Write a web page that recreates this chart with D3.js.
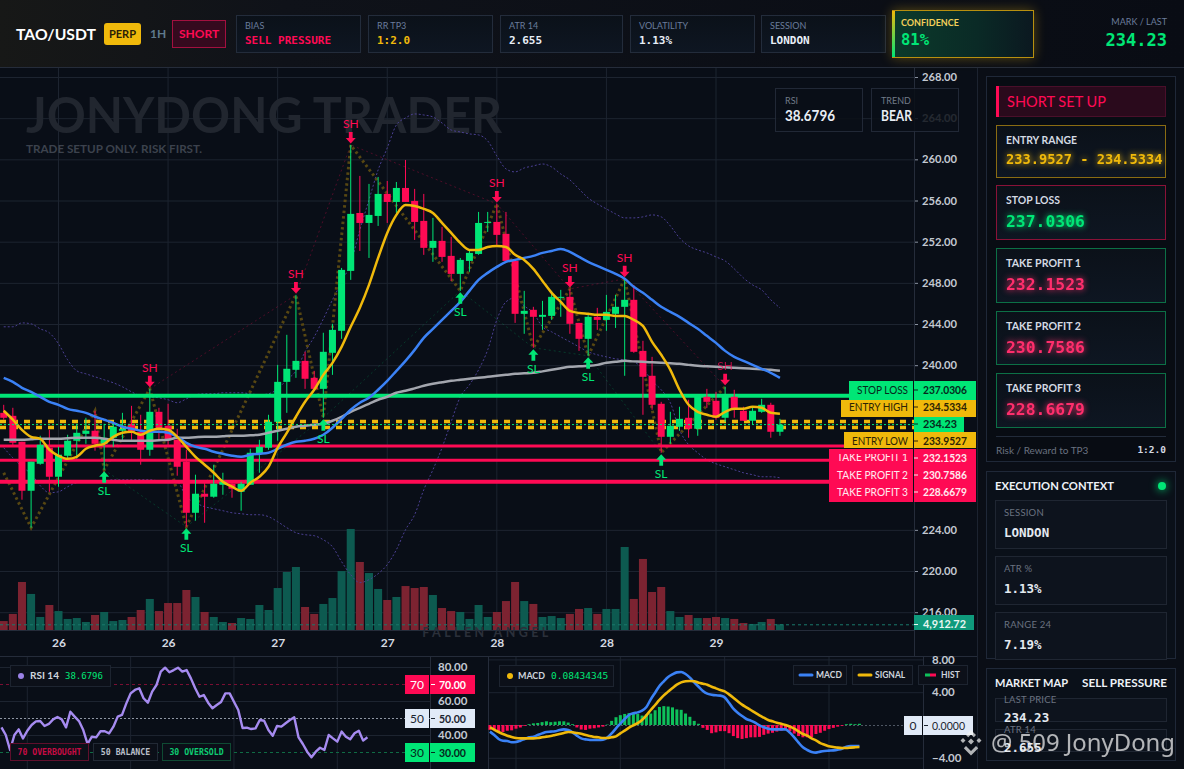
<!DOCTYPE html>
<html>
<head>
<meta charset="utf-8">
<title>TAO/USDT</title>
<script src="https://cdn.jsdelivr.net/npm/d3@7"></script>
<style>
html, body { margin: 0; padding: 0; background: #090d15; overflow: hidden; }
svg { display: block; }
</style>
</head>
<body>
<script>
// candles, one value per bar
var open = [235.37,235.08,232.56,227.80,230.42,231.98,229.16,231.20,232.66,233.33,233.63,232.36,232.95,233.63,234.31,233.53,231.78,235.47,234.11,232.75,230.62,225.66,227.51,227.22,228.38,228.48,227.70,228.38,231.39,231.98,234.50,238.38,239.55,240.42,238.77,237.70,241.20,243.34,249.16,254.79,253.82,254.50,256.64,255.86,257.22,255.96,254.02,251.40,252.08,250.62,248.87,250.13,250.81,253.82,253.92,252.76,250.13,244.99,245.38,244.70,244.79,246.54,246.64,244.11,242.56,244.70,244.40,244.99,245.67,246.35,241.39,238.97,236.25,233.04,234.02,234.89,233.82,236.93,236.54,234.89,236.93,235.57,234.60,235.47,236.15,233.53];
var high = [236.15,235.86,232.56,230.62,233.14,233.72,232.07,233.24,234.31,234.89,235.57,234.31,234.31,235.37,236.05,235.18,237.70,235.86,236.25,233.82,231.78,229.36,228.67,230.33,229.55,228.67,228.67,231.88,232.75,235.18,240.03,242.95,246.83,241.30,239.45,243.15,244.02,249.45,261.40,258.39,257.61,258.29,257.90,257.80,259.94,257.13,256.64,254.31,253.44,252.47,250.42,251.20,254.89,254.89,255.67,254.89,250.13,247.22,245.67,246.25,247.22,247.32,247.41,244.11,244.89,245.57,246.83,246.83,248.39,247.80,242.37,240.81,236.44,235.47,235.96,236.64,237.12,237.70,237.41,237.90,237.61,235.96,235.96,236.73,236.35,234.79];
var low = [234.70,232.07,226.93,224.21,230.33,227.70,228.19,230.81,230.91,232.36,231.69,229.84,232.07,232.75,232.75,230.33,231.20,232.75,232.07,229.26,224.30,224.89,224.69,227.12,227.41,227.12,225.86,228.38,229.55,231.78,232.66,235.37,238.77,237.70,237.70,234.89,239.06,242.56,248.29,251.10,250.42,253.53,253.82,254.79,255.86,252.17,250.72,250.04,250.04,248.19,247.22,249.07,250.72,252.95,251.69,250.13,244.11,243.05,241.69,243.43,244.40,244.70,243.05,241.39,240.91,243.43,243.34,243.62,238.97,241.20,235.18,235.67,231.49,232.36,233.63,232.95,233.14,235.86,234.70,234.50,234.89,234.60,234.21,235.37,232.95,233.14];
var close = [234.89,232.46,227.80,230.62,232.27,229.16,231.30,232.66,233.43,233.63,232.36,232.95,234.02,233.82,233.53,231.78,235.47,233.92,232.75,230.13,225.66,227.51,227.22,228.48,228.67,227.99,228.48,231.49,232.07,234.50,238.38,239.65,240.42,238.68,237.70,241.30,243.43,249.26,254.70,253.82,254.60,256.64,255.86,257.22,255.86,253.92,251.40,252.08,250.52,248.87,250.23,250.91,253.82,253.92,252.66,250.13,244.99,245.28,244.70,244.89,246.64,246.64,244.02,242.56,244.70,244.40,245.18,245.67,246.35,241.30,238.87,236.15,233.04,234.11,234.79,233.82,237.02,236.44,234.89,237.02,235.76,234.60,235.57,236.15,233.53,234.23];
// volume in thousands
var volume = [7.7,13.8,41.3,31.0,11.2,21.5,16.3,9.5,10.3,6.9,12.9,15.5,7.7,8.6,11.2,17.2,26.7,16.3,23.2,23.2,34.4,28.4,15.5,11.2,6.9,6.0,10.3,9.5,21.5,17.2,36.1,49.9,54.2,19.8,13.8,22.4,27.5,50.7,86.9,58.5,49.0,35.3,25.8,28.4,37.8,36.1,37.0,30.1,18.9,16.3,15.5,9.5,21.5,11.2,15.5,24.9,41.3,24.9,22.4,11.2,12.0,10.3,13.8,18.1,18.9,13.8,18.1,18.1,71.4,26.7,61.1,32.7,37.0,16.3,11.2,12.9,10.3,10.3,11.2,10.3,9.5,6.0,5.2,6.9,9.5,4.91];
// moving averages
var emaFast = [235.57,234.70,233.72,233.04,232.85,231.78,231.20,230.91,231.10,231.88,232.17,232.36,233.04,233.43,233.53,233.24,233.63,233.82,233.72,233.04,232.07,231.10,230.33,229.55,228.67,228.19,227.80,228.58,229.16,230.13,231.98,233.43,234.99,236.44,237.61,239.06,240.23,241.78,243.73,245.57,247.80,250.42,252.85,254.60,255.57,255.47,255.18,254.79,253.82,252.85,251.88,251.20,251.20,251.49,251.59,251.49,250.72,250.23,249.36,248.19,247.03,246.15,245.28,245.08,244.99,244.89,244.89,244.79,244.79,244.40,243.82,242.27,241.01,239.55,237.61,236.15,235.47,235.18,234.99,235.47,235.76,235.76,235.96,235.86,235.37,235.28];
var emaMid = [238.77,238.38,237.80,237.41,236.93,236.44,236.15,235.76,235.57,235.37,234.99,234.70,234.40,234.02,233.82,233.63,233.53,233.53,233.43,233.04,232.46,232.07,231.88,231.59,231.39,231.20,231.10,231.30,231.39,231.49,231.88,232.27,232.56,232.66,232.85,233.24,233.92,234.79,235.67,236.35,236.83,237.61,238.48,239.45,240.42,241.49,242.66,243.53,244.40,245.28,246.15,247.22,248.29,248.97,249.55,250.04,250.23,250.42,250.62,250.91,251.10,251.30,251.01,250.52,250.04,249.65,249.26,248.87,248.39,247.61,247.03,246.35,245.67,245.18,244.70,244.11,243.53,242.85,242.17,241.39,240.81,240.42,240.03,239.65,239.26,238.77];
var emaSlow = [232.75,232.75,232.75,232.80,232.85,232.85,232.85,232.90,232.95,232.95,232.95,232.85,232.75,232.66,232.66,232.66,232.66,232.71,232.75,232.95,232.95,233.00,233.04,233.04,233.09,233.14,233.14,233.19,233.24,233.43,233.63,233.82,234.02,234.11,234.21,234.31,234.60,234.99,235.47,235.86,236.25,236.64,236.93,237.32,237.51,237.75,238.00,238.19,238.34,238.48,238.58,238.68,238.77,238.87,238.97,239.06,239.16,239.21,239.26,239.40,239.55,239.70,239.84,239.89,239.94,240.03,240.23,240.33,240.42,240.37,240.33,240.28,240.23,240.18,240.13,240.03,239.94,239.89,239.84,239.79,239.74,239.70,239.65,239.60,239.55,239.45];
var bandUpper = [243.73,243.73,244.11,244.02,243.53,243.14,242.08,240.52,239.45,239.16,238.87,238.58,238.29,237.90,237.41,237.02,236.93,236.83,236.64,236.35,236.73,237.12,237.22,237.22,237.32,237.32,237.32,237.22,237.12,237.22,237.70,238.58,239.45,241.30,242.75,244.50,246.35,248.09,249.94,253.14,256.06,258.97,261.11,263.34,264.02,264.41,264.31,264.12,263.53,262.85,262.66,262.47,262.37,261.79,260.33,259.07,258.78,259.16,259.36,259.55,259.26,258.58,258.00,257.12,256.25,255.67,255.18,254.70,254.31,254.31,254.41,254.60,254.41,253.53,252.37,251.59,251.20,250.91,250.52,250.13,249.36,248.48,247.80,247.32,246.35,245.57];
var bandLower = [231.98,231.00,230.13,229.45,228.29,227.61,227.70,228.19,228.58,228.67,228.77,228.77,228.87,228.87,228.87,228.87,228.87,228.77,228.77,228.67,227.22,226.64,226.25,226.05,225.86,225.66,225.57,225.47,225.47,225.28,224.79,224.21,223.72,223.53,223.43,223.04,222.36,220.91,219.64,218.87,219.16,219.74,220.62,222.07,224.01,225.47,227.90,229.84,231.98,234.50,236.93,238.09,239.55,241.49,244.40,246.15,246.54,245.76,245.08,243.73,243.24,242.75,242.27,241.78,241.30,241.01,240.81,240.62,240.52,240.33,239.65,238.48,237.61,236.35,233.72,232.27,231.49,230.81,230.42,230.13,229.84,229.55,229.36,229.16,229.16,229.06];
// swing structure
var zigzagIdx = [0,3,10,11,16,20,32,35,38,50,54,58,62,64,68,72,79];
var zigzagPrice = [229.55,224.21,235.57,229.84,237.70,224.30,246.83,234.89,261.40,247.22,255.67,241.69,247.41,240.91,248.39,231.49,237.90];
var swingHighs = [16,32,38,54,62,68,79];
var swingLows = [11,20,35,50,58,64,72];
// oscillators
var rsi = [44.5,40.0,31.2,40.0,43.3,38.0,42.5,45.9,48.0,48.2,45.3,46.5,49.2,50.6,49.2,44.5,53.7,50.8,48.2,42.9,34.7,39.0,38.6,42.2,42.2,41.0,44.9,50.8,51.8,58.6,64.5,66.5,67.5,61.6,59.0,65.5,69.4,77.3,79.6,76.9,78.2,79.6,77.3,78.2,73.3,67.5,62.5,63.5,59.0,55.7,57.6,59.4,64.5,64.5,59.6,54.7,44.1,44.3,43.5,43.9,48.8,48.4,42.9,39.6,45.3,44.9,46.9,48.8,50.4,38.6,34.7,30.2,26.9,30.2,32.5,31.2,40.0,38.0,36.1,42.0,39.0,37.5,41.0,42.5,36.7,38.68];
var macd = [-0.81,-1.22,-1.71,-1.91,-1.95,-2.11,-2.07,-1.91,-1.71,-1.50,-1.42,-1.22,-1.02,-0.85,-0.81,-0.77,-0.61,-0.53,-0.61,-0.89,-1.30,-1.63,-1.75,-1.83,-1.83,-1.83,-1.79,-1.54,-1.02,-0.41,0.16,0.73,1.22,1.42,1.54,1.75,2.20,3.13,3.94,4.76,5.33,5.85,6.18,6.42,6.46,6.22,5.77,5.20,4.67,4.15,3.82,3.70,3.62,3.58,3.37,2.72,1.99,1.50,1.10,0.73,0.53,0.28,-0.04,-0.28,-0.45,-0.53,-0.53,-0.53,-0.53,-0.93,-1.50,-2.15,-2.72,-3.05,-3.29,-3.37,-3.25,-3.17,-3.13,-3.09,-3.01,-2.89,-2.64,-2.56,-2.56,-2.56];
var signal = [-0.28,-0.57,-0.85,-1.10,-1.30,-1.46,-1.59,-1.63,-1.63,-1.63,-1.63,-1.59,-1.50,-1.42,-1.34,-1.22,-1.10,-0.98,-0.85,-0.89,-0.98,-1.06,-1.22,-1.34,-1.46,-1.50,-1.59,-1.59,-1.50,-1.38,-1.02,-0.69,-0.33,-0.04,0.24,0.61,1.18,1.83,2.44,3.05,3.62,4.07,4.51,4.92,5.20,5.33,5.37,5.33,5.16,5.04,4.92,4.67,4.47,4.27,4.11,3.74,3.33,2.89,2.48,2.15,1.83,1.50,1.18,0.89,0.61,0.45,0.28,0.16,0,-0.20,-0.45,-0.77,-1.10,-1.30,-1.63,-1.87,-2.20,-2.40,-2.60,-2.68,-2.76,-2.80,-2.80,-2.76,-2.72,-2.68];
var hist = [-0.6,-0.65,-0.85,-0.85,-0.7,-0.65,-0.45,-0.3,-0.1,0.1,0.2,0.25,0.35,0.45,0.35,0.4,0.45,0.45,0.3,0.1,-0.3,-0.55,-0.6,-0.45,-0.4,-0.3,-0.2,0.05,0.5,0.95,1.2,1.35,1.45,1.4,1.35,1.15,1.3,1.4,1.8,2.2,2.3,2.25,2.15,1.9,1.85,1.4,1.0,0.5,0.15,-0.35,-0.6,-1.0,-0.9,-0.75,-0.75,-1.0,-1.35,-1.6,-1.7,-1.6,-1.5,-1.5,-1.45,-1.2,-1.05,-0.95,-0.8,-0.7,-0.55,-0.75,-1.05,-1.35,-1.5,-1.5,-1.5,-1.1,-0.95,-0.7,-0.5,-0.35,-0.2,-0.1,0.1,0.15,0.1,0.15];
// axes
var priceTicks = [268,264,260,256,252,248,244,240,224,220,216];
var timeTicks = [6,18,30,42,54,66,78];
var timeLabels = ["26","26","27","27","28","28","29"];
var rsiTicks = [80,60,40];
var macdTicks = [8,4,-4];
// trade levels
var stopLoss = 237.0306, entryHigh = 234.5334, entryLow = 233.9527, tp1 = 232.1523, tp2 = 230.7586, tp3 = 228.6679, lastPrice = 234.23;

var GREEN = "#00e676", RED = "#ff0a54", YELLOW = "#f0b90b", BLUE = "#3b82f6", GRID = "#1d2430", PURPLE = "#9b82e6";
var SANS = "Lato, 'Noto Sans', sans-serif", MONO = "'DejaVu Sans Mono', monospace";

var svg = d3.select("body").append("svg").attr("width", 1184).attr("height", 769);
var defs = svg.append("defs");

function gradient(id, stops, x2, y2) {
  var g = defs.append("linearGradient").attr("id", id).attr("x1", 0).attr("y1", 0).attr("x2", x2).attr("y2", y2);
  stops.forEach(function(s) { g.append("stop").attr("offset", s[0]).attr("stop-color", s[1]); });
}
gradient("headGrad", [[0, "#171817"], [0.24, "#0f1219"], [1, "#090c14"]], 1, 0);
gradient("confGrad", [[0, "#0c3b2b"], [0.6, "#0a2a26"], [1, "#0b1820"]], 1, 0);
gradient("confBar", [[0, YELLOW], [1, GREEN]], 0, 1);
gradient("cardGrad", [[0, "#0b1119"], [1, "#0e1622"]], 0, 1);
defs.append("clipPath").attr("id", "mainClip").append("rect").attr("x", 0).attr("y", 68).attr("width", 914).attr("height", 562);

function rect(g, x, y, w, h, fill, stroke, op) {
  return g.append("rect").attr("x", x).attr("y", y).attr("width", w).attr("height", h)
    .attr("fill", fill || "none").attr("stroke", stroke || "none").attr("opacity", op == null ? 1 : op);
}
function txt(g, x, y, s, size, fill, o) {
  o = o || {};
  var t = g.append("text").attr("x", x).attr("y", y).attr("dy", "0.35em").text(s)
    .attr("font-size", size).attr("fill", fill)
    .attr("font-family", o.font || SANS).attr("font-weight", o.weight || 700)
    .attr("text-anchor", o.anchor || "start");
  if (o.ls) t.attr("letter-spacing", o.ls);
  // o.w squeezes the word to the width it has in the picture
  if (o.w) t.attr("textLength", o.w).attr("lengthAdjust", "spacingAndGlyphs");
  if (o.glow) t.style("filter", "drop-shadow(0 0 3px " + o.glow + ")");
  if (o.op != null) t.attr("opacity", o.op);
  return t;
}
function rule(g, x1, y1, x2, y2, c, w) {
  return g.append("line").attr("x1", x1).attr("y1", y1).attr("x2", x2).attr("y2", y2).attr("stroke", c).attr("stroke-width", w || 1);
}

rect(svg, 0, 0, 1184, 769, "#090e17");

// ---- header
var head = svg.append("g");
rect(head, 0, 0, 1184, 67, "url(#headGrad)");
rule(head, 0, 67.5, 1184, 67.5, "#252c3a");
txt(head, 16, 34, "TAO/USDT", 16, "#fff", {w: 80});
rect(head, 104, 23, 37, 22, YELLOW).attr("rx", 3);
txt(head, 122.5, 34, "PERP", 11, "#2a2006", {anchor: "middle"});
txt(head, 150, 34, "1H", 12, "#5f7a8c");
rect(head, 172.5, 20.5, 53, 27, "#350a1e", "#a3103f");
txt(head, 199, 34, "SHORT", 12, RED, {anchor: "middle"});

var tileLabels = ["BIAS", "RR TP3", "ATR 14", "VOLATILITY", "SESSION"];
var tileValues = ["SELL PRESSURE", "1:2.0", "2.655", "1.13%", "LONDON"];
var tileColors = [RED, YELLOW, "#e8eef7", "#e8eef7", "#e8eef7"];
var tileX = d3.scaleOrdinal().domain(tileLabels).range([236, 368, 500, 630, 761]);
tileLabels.forEach(function(l, k) {
  var tx = tileX(l);
  rect(head, tx + 0.5, 15.5, k == 2 ? 122 : 124, 37, "url(#cardGrad)", "#232c3b");
  txt(head, tx + 9, 26, l, 9, "#6a7c9b", {weight: 400});
  txt(head, tx + 9, 40, tileValues[k], 11, tileColors[k], {font: MONO});
});
rect(head, 892.5, 10.5, 141, 47, "url(#confGrad)", "#b8900f").style("filter", "drop-shadow(0 0 6px rgba(240,185,11,.35))");
rect(head, 892, 11, 3, 46, "url(#confBar)");
txt(head, 901, 23, "CONFIDENCE", 9, "#f3cf5a");
txt(head, 901, 40, "81%", 15.5, GREEN, {font: MONO});
txt(head, 1167, 22, "MARK / LAST", 9, "#6a7c9b", {anchor: "end", weight: 400});
txt(head, 1167, 40, "234.23", 17, GREEN, {font: MONO, anchor: "end"});

// ---- main pane
var x = d3.scaleLinear().domain([6, 78]).range([58.5, 716]);
var y = d3.scaleLinear().domain([216, 268]).range([612.2, 77]);
var v = d3.scaleLinear().domain([0, 86]).range([630, 530]);

var grid = svg.append("g").attr("stroke", GRID);
grid.selectAll(".h").data(priceTicks).enter().append("line").attr("x1", 0).attr("x2", 914)
  .attr("y1", function(d) { return y(d) + 0.5; }).attr("y2", function(d) { return y(d) + 0.5; });
grid.selectAll(".v").data(timeTicks).enter().append("line").attr("y1", 68).attr("y2", 630)
  .attr("x1", function(d) { return x(d); }).attr("x2", function(d) { return x(d); });

txt(svg, 26, 115, "JONYDONG TRADER", 50, "#21262f", {w: 476});
txt(svg, 26, 149, "TRADE SETUP ONLY. RISK FIRST.", 12, "#3c424d", {w: 176});

var plot = svg.append("g").attr("clip-path", "url(#mainClip)");
var idx = d3.range(close.length);
function isUp(i) { return close[i] >= open[i]; }

plot.selectAll(".vol").data(idx).enter().append("rect")
  .attr("x", function(i) { return x(i) - 4; }).attr("width", 8)
  .attr("y", function(i) { return v(volume[i]); })
  .attr("height", function(i) { return 630 - v(volume[i]); })
  .attr("fill", function(i) { return isUp(i) ? "#0d5a50" : "#7c2331"; });

var priceLine = function(vals) {
  return d3.line().x(function(i) { return x(i); }).y(function(i) { return y(vals[i]); }).curve(d3.curveMonotoneX)(idx);
};
[bandUpper, bandLower].forEach(function(b) {
  plot.append("path").attr("d", priceLine(b)).attr("fill", "none").attr("stroke", "#4a3f92")
    .attr("stroke-width", 1).attr("stroke-dasharray", "2 2");
});

function straight(ids, vals) {
  return d3.line().x(function(i) { return x(i); }).y(function(d, k) { return y(vals[k]); })(ids);
}
plot.append("path").attr("d", straight(swingHighs, swingHighs.map(function(i) { return high[i]; })))
  .attr("fill", "none").attr("stroke", RED).attr("opacity", 0.28).attr("stroke-dasharray", "2 3");
plot.append("path").attr("d", straight(swingLows, swingLows.map(function(i) { return low[i]; })))
  .attr("fill", "none").attr("stroke", GREEN).attr("opacity", 0.2).attr("stroke-dasharray", "2 3");
plot.append("path").attr("d", straight(zigzagIdx, zigzagPrice)).attr("fill", "none").attr("stroke", "#574712")
  .attr("stroke-width", 3).attr("stroke-dasharray", "2.5 3");

// levels sit behind the candles
rule(plot, 0, y(stopLoss), 914, y(stopLoss), GREEN, 4);
[entryHigh, entryLow].forEach(function(l) {
  rule(plot, 0, y(l), 914, y(l), YELLOW, 3.5).attr("stroke-dasharray", "6 6");
});
rule(plot, 0, y(tp1), 914, y(tp1), RED, 3);
rule(plot, 0, y(tp2), 914, y(tp2), RED, 3);
rule(plot, 0, y(tp3), 914, y(tp3), RED, 4);

var bars = plot.selectAll(".candle").data(idx).enter().append("g");
bars.append("line")
  .attr("x1", function(i) { return x(i); }).attr("x2", function(i) { return x(i); })
  .attr("y1", function(i) { return y(high[i]); }).attr("y2", function(i) { return y(low[i]); })
  .attr("stroke", function(i) { return isUp(i) ? GREEN : RED; });
bars.append("rect")
  .attr("x", function(i) { return x(i) - 3.5; }).attr("width", 7)
  .attr("y", function(i) { return y(Math.max(open[i], close[i])); })
  .attr("height", function(i) { return Math.max(1, Math.abs(y(open[i]) - y(close[i]))); })
  .attr("fill", function(i) { return isUp(i) ? GREEN : RED; });

plot.append("path").attr("d", priceLine(emaSlow)).attr("fill", "none").attr("stroke", "#a3a6ae").attr("stroke-width", 2.5);
plot.append("path").attr("d", priceLine(emaMid)).attr("fill", "none").attr("stroke", BLUE).attr("stroke-width", 2.5);
plot.append("path").attr("d", priceLine(emaFast)).attr("fill", "none").attr("stroke", YELLOW).attr("stroke-width", 2.5);
rule(plot, 0, y(lastPrice), 914, y(lastPrice), GREEN, 1).attr("stroke-dasharray", "2 2");
rule(plot, 0, v(4.91) + 0.5, 914, v(4.91) + 0.5, "#1a7a6c", 1).attr("stroke-dasharray", "3 3");

var arrowDown = "M-1.9,-13 H1.9 V-7 H5 L0,-1.5 L-5,-7 H-1.9 Z";
var arrowUp = "M-1.9,13 H1.9 V7 H5 L0,1.5 L-5,7 H-1.9 Z";
swingHighs.forEach(function(i) {
  var g = plot.append("g").attr("transform", "translate(" + x(i) + "," + y(high[i]) + ")");
  g.append("path").attr("d", arrowDown).attr("fill", RED);
  txt(g, 0, -21, "SH", 12, RED, {anchor: "middle", weight: 400, op: i == 79 ? 0.7 : 1});
});
swingLows.forEach(function(i) {
  var g = plot.append("g").attr("transform", "translate(" + x(i) + "," + y(low[i]) + ")");
  g.append("path").attr("d", arrowUp).attr("fill", GREEN);
  txt(g, 0, 21, "SL", 12, GREEN, {anchor: "middle", weight: 400});
});

txt(svg, 487, 633, "FALLEN ANGEL", 12.5, "#2b303a", {anchor: "middle", ls: 3.4});

// axis + separators
var yAxis = svg.append("g").attr("transform", "translate(914,0)")
  .call(d3.axisRight(y).tickValues(priceTicks).tickSize(4).tickPadding(4).tickFormat(d3.format(".2f")));
yAxis.selectAll("text").attr("fill", "#c3c9d2").attr("font-size", 11.2).attr("font-family", SANS).attr("font-weight", 700);
yAxis.selectAll("line").attr("stroke", "#8b93a1");
yAxis.select(".domain").remove();
rule(svg, 914.5, 68, 914.5, 656, "#252c3a");
rule(svg, 977.5, 68, 977.5, 769, "#1c2330");

var xAxis = svg.append("g").attr("transform", "translate(0,630)")
  .call(d3.axisBottom(x).tickValues(timeTicks).tickSize(0).tickPadding(8).tickFormat(function(d, k) { return timeLabels[k]; }));
xAxis.selectAll("text").attr("fill", "#d5dae2").attr("font-size", 12).attr("font-family", SANS).attr("font-weight", 700);
xAxis.select(".domain").remove();
rule(svg, 0, 630.5, 914, 630.5, "#252c3a");
rule(svg, 0, 656.5, 977, 656.5, "#252c3a");

// RSI / TREND boxes float over the price axis
[[775, 87, "RSI", "38.6796", 50], [871, 87, "TREND", "BEAR", 31]].forEach(function(b) {
  rect(svg, b[0] + 0.5, 88.5, b[1], 43, "#0a0f17", "#252d3c", 0.86);
  txt(svg, b[0] + 10, 100.5, b[2], 9, "#717a88", {weight: 400});
  txt(svg, b[0] + 10, 116, b[3], 15, "#e8edf4", {w: b[4]});
});

// level tags on the axis
var tagNames = ["STOP LOSS", "ENTRY HIGH", "", "ENTRY LOW", "TAKE PROFIT 1", "TAKE PROFIT 2", "TAKE PROFIT 3"];
var tagValues = [stopLoss, entryHigh, lastPrice, entryLow, tp1, tp2, tp3];
var tagFill = [GREEN, YELLOW, GREEN, YELLOW, RED, RED, RED];
var tagInk = ["#06281c", "#2c2305", "#06281c", "#2c2305", "#ffe9ef", "#ffe9ef", "#ffe9ef"];
var tagLeft = [849, 841, 914, 844, 829, 829, 829];
var tagRight = [976, 976, 964, 976, 976, 976, 976];
var tagTop = [381, 400, 417, 432, 449, 466, 484];
var tagBottom = [400, 417, 432, 448, 466, 484, 502];
var tagText = [390, 407, 424, 441, 458, 475, 492];
var tagNameW = [51, 59, 0, 56, 71, 71, 71];
var tagNameY = [390, 407, 424, 441, 456.5, 475, 492];
tagNames.forEach(function(n, k) {
  rect(svg, tagLeft[k], tagTop[k], tagRight[k] - tagLeft[k], tagBottom[k] - tagTop[k], tagFill[k]);
  if (n) {
    txt(svg, 908 - tagNameW[k], tagNameY[k], n, 12, tagInk[k], {weight: 400, w: tagNameW[k]});
    rule(svg, 913.5, tagTop[k], 913.5, tagBottom[k], "#0a0f17");
  }
  rule(svg, 914, tagText[k], 918, tagText[k], tagInk[k]);
  var isLast = tagValues[k] == lastPrice;
  txt(svg, 923, tagText[k], isLast ? "234.23" : d3.format(".4f")(tagValues[k]), 12, tagInk[k], {w: isLast ? 34 : 44});
});
// the first take profit tag is overlapped at its top edge
rect(svg, 829, 449, 84, 5, RED);
rect(svg, 914, 615, 60, 15, "#0f9a7c");
rule(svg, 914, 624.5, 918, 624.5, "#e8f6f2");
txt(svg, 923, 624, "4,912.72", 12, "#e8f6f2", {w: 43});

// ---- RSI pane
var rsiX = d3.scaleLinear().domain([6, 78]).range([27.3, 337.3]);
var rsiY = d3.scaleLinear().domain([30, 80]).range([752, 667]);
var rsiG = svg.append("g");
rsiTicks.forEach(function(t) { rule(rsiG, 0, rsiY(t) + 0.5, 430, rsiY(t) + 0.5, GRID); });
d3.range(4).forEach(function(n) {
  var gx = rsiX(6 + n * 24);
  rule(rsiG, gx, 657, gx, 769, GRID);
});
rule(rsiG, 0, rsiY(70) + 0.5, 430, rsiY(70) + 0.5, "#7a0f33").attr("stroke-dasharray", "3 3");
rule(rsiG, 0, rsiY(50) + 0.5, 430, rsiY(50) + 0.5, "#8f96a3").attr("stroke-dasharray", "2 2");
rule(rsiG, 0, rsiY(30) + 0.5, 430, rsiY(30) + 0.5, "#0f6b44").attr("stroke-dasharray", "3 3");
rsiG.append("path").attr("fill", "none").attr("stroke", "#a68bf0").attr("stroke-width", 2.4).attr("stroke-linejoin", "round")
  .attr("d", d3.line().x(function(i) { return rsiX(i); }).y(function(i) { return rsiY(rsi[i]); })(idx));
rule(rsiG, 430.5, 657, 430.5, 769, "#252c3a");
rule(rsiG, 488.5, 657, 488.5, 769, "#252c3a");
var rsiAxis = rsiG.append("g").attr("transform", "translate(430,0)")
  .call(d3.axisRight(rsiY).tickValues(rsiTicks).tickSize(0).tickPadding(8).tickFormat(d3.format(".2f")));
rsiAxis.selectAll("text").attr("fill", "#c3c9d2").attr("font-size", 11.5).attr("font-family", SANS).attr("font-weight", 700);
rsiAxis.select(".domain").remove();

var rsiBadgeVals = [70, 50, 30];
var rsiBadgeFill = [RED, "#e1eaf7", GREEN];
var rsiBadgeInk = ["#fff", "#1b2430", "#06281c"];
rsiBadgeVals.forEach(function(b, k) {
  rect(rsiG, 405, rsiY(b) - 9, 24, 19, rsiBadgeFill[k]);
  rect(rsiG, 430, rsiY(b) - 9, 45, 19, rsiBadgeFill[k]);
  txt(rsiG, 417, rsiY(b) + 0.5, String(b), 12, rsiBadgeInk[k], {anchor: "middle", weight: 400});
  rule(rsiG, 431, rsiY(b) + 0.5, 435, rsiY(b) + 0.5, rsiBadgeInk[k]);
  txt(rsiG, 439, rsiY(b) + 0.5, b + ".00", 12, rsiBadgeInk[k], {w: 27});
});
rect(rsiG, 10.5, 665.5, 100, 21, "#0c1019", "#1d2430");
rsiG.append("circle").attr("cx", 21).attr("cy", 676).attr("r", 3).attr("fill", PURPLE);
txt(rsiG, 30, 676, "RSI 14", 9.5, "#cfd5de", {w: 29});
txt(rsiG, 65, 676, "38.6796", 9, GREEN, {font: MONO, weight: 400});

[[10, 78, "70 OVERBOUGHT", "#5f0f2c", "#c50c44"], [93, 64, "50 BALANCE", "#222935", "#b9bfc9"], [162, 68, "30 OVERSOLD", "#0f4a33", "#0ecb72"]].forEach(function(t) {
  rect(rsiG, t[0] + 0.5, 743.5, t[1], 17, "#0b0f18", t[3]);
  txt(rsiG, t[0] + t[1] / 2 + 0.5, 752, t[2], 8.2, t[4], {font: MONO, anchor: "middle"});
});

// ---- MACD pane
var macdX = d3.scaleLinear().domain([6, 78]).range([516, 829]);
var macdY = d3.scaleLinear().domain([-4, 8]).range([757.8, 659.4]);
var macdG = svg.append("g");
macdTicks.forEach(function(t) { rule(macdG, 489, macdY(t) + 0.5, 923, macdY(t) + 0.5, GRID); });
d3.range(4).forEach(function(n) {
  var gx = macdX(6 + n * 24);
  rule(macdG, gx, 657, gx, 769, GRID);
});
rule(macdG, 489, macdY(0) + 0.5, 905, macdY(0) + 0.5, "#4e5663").attr("stroke-dasharray", "2 2");
macdG.selectAll(".hist").data(idx).enter().append("rect")
  .attr("x", function(i) { return macdX(i) - 1.5; }).attr("width", 3)
  .attr("y", function(i) { return Math.min(macdY(hist[i]), macdY(0)); })
  .attr("height", function(i) { return Math.abs(macdY(hist[i]) - macdY(0)); })
  .attr("fill", function(i) { return hist[i] >= 0 ? "#0ec05a" : RED; });
function macdPath(vals) {
  return d3.line().x(function(i) { return macdX(i); }).y(function(i) { return macdY(vals[i]); }).curve(d3.curveMonotoneX)(idx);
}
macdG.append("path").attr("d", macdPath(macd)).attr("fill", "none").attr("stroke", BLUE).attr("stroke-width", 2.6);
macdG.append("path").attr("d", macdPath(signal)).attr("fill", "none").attr("stroke", YELLOW).attr("stroke-width", 2.6);
rule(macdG, 923.5, 657, 923.5, 769, "#252c3a");
var macdAxis = macdG.append("g").attr("transform", "translate(923,0)")
  .call(d3.axisRight(macdY).tickValues(macdTicks).tickSize(0).tickPadding(9).tickFormat(d3.format(".2f")));
macdAxis.selectAll("text").attr("fill", "#c3c9d2").attr("font-size", 11.5).attr("font-family", SANS).attr("font-weight", 700);
macdAxis.select(".domain").remove();
rect(macdG, 904, 716, 18, 19, "#e1eaf7");
rect(macdG, 923, 716, 50, 19, "#e1eaf7");
txt(macdG, 913, 725.5, "0", 12, "#1b2430", {anchor: "middle", weight: 400});
rule(macdG, 924, 725.5, 928, 725.5, "#1b2430");
txt(macdG, 932, 725.5, "0.0000", 12, "#1b2430", {weight: 400, w: 33});

rect(macdG, 499.5, 665.5, 114, 21, "#0c1019", "#1d2430");
macdG.append("circle").attr("cx", 510).attr("cy", 676).attr("r", 3).attr("fill", YELLOW);
txt(macdG, 518, 676, "MACD", 9.5, "#cfd5de", {w: 27});
txt(macdG, 551, 676, "0.08434345", 9.5, GREEN, {font: MONO, weight: 400});
[[793, 53, "MACD", BLUE], [852, 60, "SIGNAL", YELLOW], [918, 49, "HIST", null]].forEach(function(k) {
  rect(macdG, k[0] + 0.5, 665.5, k[1], 19, "#0c1019", "#1d2430");
  if (k[3]) {
    rule(macdG, k[0] + 7, 675, k[0] + 19, 675, k[3], 3).attr("stroke-linecap", "round");
    txt(macdG, k[0] + 23, 675, k[2], 8.5, "#cfd5de");
  } else {
    rule(macdG, k[0] + 7, 675, k[0] + 12, 675, "#0ec05a", 3);
    rule(macdG, k[0] + 12, 675, k[0] + 18, 675, RED, 3);
    txt(macdG, k[0] + 23, 675, k[2], 8.5, "#cfd5de");
  }
});

// ---- right column
var side = svg.append("g");
rect(side, 978, 68, 206, 701, "#0a0e16");
rect(side, 986.5, 76.5, 189, 385, "#080c13", "#1f2838");
rect(side, 996.5, 86.5, 169, 30, "#2a0a1c", "#4a0f2a");
rect(side, 996, 86, 3, 31, RED);
txt(side, 1007, 101, "SHORT SET UP", 16, RED, {weight: 400, w: 99});

var cardNames = ["ENTRY RANGE", "STOP LOSS", "TAKE PROFIT 1", "TAKE PROFIT 2", "TAKE PROFIT 3"];
var cardValues = ["233.9527 - 234.5334", "237.0306", "232.1523", "230.7586", "228.6679"];
var cardInk = [YELLOW, GREEN, "#ff2e6c", "#ff2e6c", "#ff2e6c"];
var cardLine = ["#8a6c12", "#8a1238", "#0c7046", "#0c7046", "#0c7046"];
var cardTop = [125, 185, 248, 311, 373];
var cardH = [52, 54, 54, 53, 54];
var cardNameW = [71, 54, 75, 75, 75];
cardNames.forEach(function(n, k) {
  rect(side, 996.5, cardTop[k] + 0.5, 169, cardH[k], "url(#cardGrad)", cardLine[k]);
  txt(side, 1006, cardTop[k] + 15, n, 11, "#d4dae3", {w: cardNameW[k]});
  txt(side, 1006, cardTop[k] + (k == 0 ? 34 : 36), cardValues[k], k == 0 ? 13.7 : 16.4, cardInk[k], {font: MONO, glow: cardInk[k]});
});
rule(side, 996, 436.5, 1166, 436.5, "#222b3a");
txt(side, 996, 450, "Risk / Reward to TP3", 10, "#6a7280", {weight: 400});
txt(side, 1166, 450, "1:2.0", 9.5, "#d4dae3", {font: MONO, anchor: "end"});

rect(side, 986.5, 471.5, 189, 187, "#0a1019", "#1f2838");
txt(side, 995, 485.5, "EXECUTION CONTEXT", 12, "#eef2f7", {w: 119});
side.append("circle").attr("cx", 1162).attr("cy", 486).attr("r", 4).attr("fill", GREEN).style("filter", "drop-shadow(0 0 4px " + GREEN + ")");
var ctxNames = ["SESSION", "ATR %", "RANGE 24"];
var ctxValues = ["LONDON", "1.13%", "7.19%"];
var ctxTop = [500, 556, 612];
ctxNames.forEach(function(n, k) {
  rect(side, 995.5, ctxTop[k] + 0.5, 171, k == 2 ? 47 : 48, "#0d131d", "#1f2632");
  txt(side, 1004, ctxTop[k] + 13, n, 9.5, "#6a7280", {weight: 400, ls: 0.2});
  txt(side, 1004, ctxTop[k] + 33, ctxValues[k], 12.5, "#e4e9f0", {font: MONO});
});

rect(side, 986.5, 668.5, 189, 92, "#0a1019", "#1f2838");
txt(side, 995, 683, "MARKET MAP", 12, "#eef2f7", {w: 73});
txt(side, 1082, 683, "SELL PRESSURE", 12, "#eef2f7", {w: 85});
rect(side, 995.5, 698.5, 171, 23, "#0d131d", "#1f2632");
rect(side, 995.5, 729.5, 171, 22, "#0d131d", "#1f2632");
txt(side, 1004, 699.5, "LAST PRICE", 9.5, "#6a7280", {weight: 400, ls: 0.2});
txt(side, 1004, 717.5, "234.23", 12.5, "#e4e9f0", {font: MONO});
txt(side, 1004, 730, "ATR 14", 9.5, "#6a7280", {weight: 400, ls: 0.2});
txt(side, 1004, 748, "2.655", 12.5, "#e4e9f0", {font: MONO});

// ---- share watermark
var mark = svg.append("g").attr("opacity", 0.72);
mark.append("path").attr("fill", "#f4f4f4").attr("fill-rule", "evenodd").attr("transform", "translate(971,743)")
  .attr("d", "M0,-13 L5,-8 L2.8,-5.8 L0,-8.6 L-2.8,-5.8 L-5,-8 Z M-8,-5 L-5.5,-2.5 L-8,0 L-10.5,-2.5 Z M8,-5 L10.5,-2.5 L8,0 L5.5,-2.5 Z M0,-4.5 L3,-1.5 L0,1.5 L-3,-1.5 Z M-5,3 L0,8 L5,3 L7.2,5.2 L0,12.4 L-7.2,5.2 Z");
txt(mark, 991, 743, "@ 509 JonyDong", 24, "#f4f4f4", {font: "'Noto Sans', sans-serif", weight: 400, w: 184});
</script>
</body>
</html>
